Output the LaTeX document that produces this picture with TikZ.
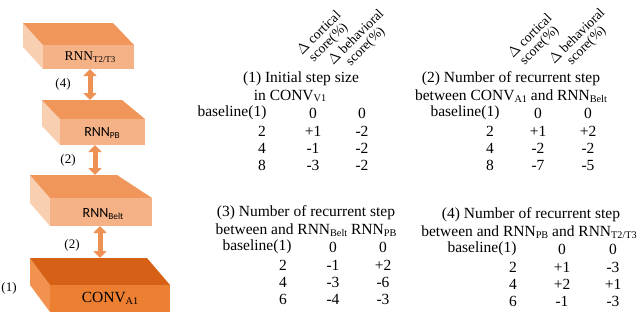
\documentclass[tikz,border=0pt]{standalone}
\usepackage{fontspec}
\usepackage{graphicx}
\setmainfont{Liberation Serif}
\newfontfamily\calibri{Carlito}
\usetikzlibrary{arrows.meta}
\definecolor{rnnTop}{RGB}{240,150,90}
\definecolor{rnnFront}{RGB}{245,178,135}
\definecolor{rnnSide}{RGB}{249,207,178}
\definecolor{convTop}{RGB}{214,96,22}
\definecolor{convFront}{RGB}{236,127,50}
\definecolor{convSide}{RGB}{241,146,78}
\definecolor{linkOrange}{RGB}{238,145,85}
\newcommand{\lowsub}[1]{\raisebox{-0.25ex}{\scalebox{0.66}{#1}}}
\tikzset{
  cell/.style={inner sep=0pt, font=\fontsize{15.5}{16}\selectfont},
  head/.style={inner sep=0pt, rotate=45, align=center, font=\fontsize{13.5}{13}\selectfont},
  lbl/.style={inner sep=0pt, font=\fontsize{13}{13}\selectfont},
  link/.style={line width=5pt, draw=linkOrange, {Triangle[width=13pt,length=7pt]}-{Triangle[width=13pt,length=7pt]}}
}
\begin{document}
\begin{tikzpicture}[x=1pt,y=-1pt]
\useasboundingbox (0,0) rectangle (640,316);
% blocks
\fill[rnnSide] (23,23) -- (43,45) -- (43,69) -- (23,47) -- cycle;
\fill[rnnTop] (23,23) -- (113,23) -- (134,45) -- (43,45) -- cycle;
\fill[rnnFront] (43,45) rectangle (134,69);
\node[lbl, font=\fontsize{13.5}{13.5}\selectfont] (t23) at (90,57) {RNN\lowsub{T2/T3}};
\fill[rnnSide] (42,100) -- (60,119) -- (60,145) -- (42,126) -- cycle;
\fill[rnnTop] (42,100) -- (122,100) -- (145,119) -- (60,119) -- cycle;
\fill[rnnFront] (60,119) rectangle (145,145);
\node[lbl, font=\calibri\fontsize{14}{14}\selectfont] (pb) at (102,133) {RNN\lowsub{PB}};
\fill[rnnSide] (30,175) -- (50,198) -- (50,226) -- (30,203) -- cycle;
\fill[rnnTop] (30,175) -- (117,175) -- (152,198) -- (50,198) -- cycle;
\fill[rnnFront] (50,198) rectangle (152,226);
\node[lbl, font=\calibri\fontsize{14}{14}\selectfont] (belt) at (103,214) {RNN\lowsub{Belt}};
\fill[convSide] (30,258) -- (50,285) -- (50,312) -- (30,285) -- cycle;
\fill[convTop] (30,258) -- (147,258) -- (170,285) -- (50,285) -- cycle;
\fill[convFront] (50,285) rectangle (170,312);
\node[lbl, font=\fontsize{15.5}{15.5}\selectfont] (conv) at (110,298) {CONV\lowsub{A1}};
% links
\coordinate (t23b) at (90,69);
\coordinate (pbt) at (90,100);
\coordinate (pbb) at (95,145);
\coordinate (beltt) at (95,175);
\coordinate (beltb) at (100,226);
\coordinate (convt) at (100,258);
\draw[link] (t23b) -- (pbt);
\draw[link] (pbb) -- (beltt);
\draw[link] (beltb) -- (convt);
\node[lbl] (n4) at (63,84) {(4)};
\node[lbl] (n2a) at (68,160) {(2)};
\node[lbl] (n2b) at (72,245) {(2)};
\node[lbl] (n1) at (9,288) {(1)};
% table 1
\node[head] (h1a) at (324,38) {$\Delta$ cortical\\score(\%)};
\node[head] (h1b) at (361,42) {$\Delta$ behavioral\\score(\%)};
\node[cell] (t1a) at (301,79) {(1) Initial step size};
\node[cell] (t1b) at (290,96) {in CONV\lowsub{V1}};
\node[cell] at (232,113) {baseline(1)};
\node[cell] at (313,113) {0};
\node[cell] at (362,113) {0};
\node[cell] at (262,131) {2};
\node[cell] at (313,131) {+1};
\node[cell] at (362,131) {-2};
\node[cell] at (262,148) {4};
\node[cell] at (313,148) {-1};
\node[cell] at (362,148) {-2};
\node[cell] at (262,165) {8};
\node[cell] at (313,165) {-3};
\node[cell] at (362,165) {-2};
% table 2
\node[head] (h2a) at (535,41) {$\Delta$ cortical\\score(\%)};
\node[head] (h2b) at (582,41) {$\Delta$ behavioral\\score(\%)};
\node[cell] (t2a) at (511,79) {(2) Number of recurrent step};
\node[cell] (t2b) at (511,96) {between CONV\lowsub{A1} and RNN\lowsub{Belt}};
\node[cell] at (465,113) {baseline(1)};
\node[cell] at (538,113) {0};
\node[cell] at (588,113) {0};
\node[cell] at (490,131) {2};
\node[cell] at (538,131) {+1};
\node[cell] at (588,131) {+2};
\node[cell] at (490,148) {4};
\node[cell] at (538,148) {-2};
\node[cell] at (588,148) {-2};
\node[cell] at (490,165) {8};
\node[cell] at (538,165) {-7};
\node[cell] at (588,165) {-5};
% table 3
\node[cell] (t3a) at (306,213) {(3) Number of recurrent step};
\node[cell] (t3b) at (306,230) {between and RNN\lowsub{Belt} RNN\lowsub{PB}};
\node[cell] at (257,247) {baseline(1)};
\node[cell] at (333,247) {0};
\node[cell] at (383,247) {0};
\node[cell] at (283,265) {2};
\node[cell] at (333,265) {-1};
\node[cell] at (383,265) {+2};
\node[cell] at (283,282) {4};
\node[cell] at (333,282) {-3};
\node[cell] at (383,282) {-6};
\node[cell] at (283,299) {6};
\node[cell] at (333,299) {-4};
\node[cell] at (383,299) {-3};
% table 4
\node[cell] (t4a) at (531,215) {(4) Number of recurrent step};
\node[cell] (t4b) at (529,232) {between and RNN\lowsub{PB} and RNN\lowsub{T2/T3}};
\node[cell] at (482,249) {baseline(1)};
\node[cell] at (562,249) {0};
\node[cell] at (613,249) {0};
\node[cell] at (513,267) {2};
\node[cell] at (562,267) {+1};
\node[cell] at (613,267) {-3};
\node[cell] at (513,284) {4};
\node[cell] at (562,284) {+2};
\node[cell] at (613,284) {+1};
\node[cell] at (513,301) {6};
\node[cell] at (562,301) {-1};
\node[cell] at (613,301) {-3};
\end{tikzpicture}
\end{document}
